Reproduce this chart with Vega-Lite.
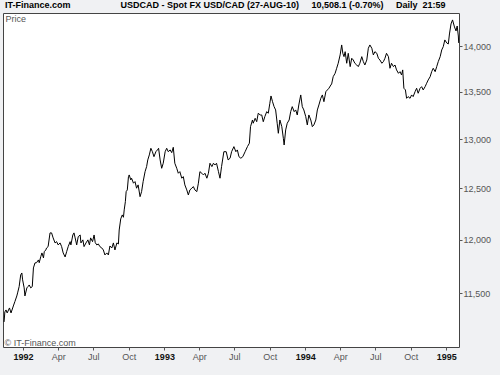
{
"$schema": "https://vega.github.io/schema/vega-lite/v6.json",
"width": 456, "height": 334,
"autosize": {"type": "none"},
"padding": {"left": 3, "top": 13, "right": 41, "bottom": 28},
"background": "#f0f1f3",
"config": {"view": {"fill": "#ffffff", "stroke": "#444444", "strokeWidth": 1}, "font": "Liberation Sans"},
"title": {"text": "IT-Finance.com\u00a0\u00a0\u00a0\u00a0\u00a0\u00a0\u00a0\u00a0\u00a0\u00a0\u00a0\u00a0\u00a0\u00a0\u00a0\u00a0\u00a0\u00a0\u00a0\u00a0USDCAD - Spot FX USD/CAD (27-AUG-10)\u00a0\u00a0\u00a0\u00a0\u00a010,508.1 (-0.70%)\u00a0\u00a0\u00a0\u00a0\u00a0Daily\u00a0\u00a021:59", "anchor": "start", "frame": "group", "dx": 2, "dy": 7, "offset": 3, "baseline": "alphabetic", "fontSize": 9, "fontWeight": "bold", "color": "#000000", "font": "Liberation Sans"},
"data": {"values": [
{"date":"1991-11-13","price":11239},{"date":"1991-11-15","price":11329},{"date":"1991-11-18","price":11347},{"date":"1991-11-21","price":11320},{"date":"1991-11-27","price":11365},{"date":"1991-12-01","price":11320},{"date":"1991-12-07","price":11383},{"date":"1991-12-11","price":11423},{"date":"1991-12-16","price":11474},{"date":"1991-12-18","price":11502},{"date":"1991-12-22","price":11560},{"date":"1991-12-26","price":11668},{"date":"1991-12-29","price":11686},{"date":"1991-12-31","price":11622},
{"date":"1992-01-04","price":11548},{"date":"1992-01-06","price":11474},{"date":"1992-01-11","price":11548},{"date":"1992-01-14","price":11560},{"date":"1992-01-17","price":11575},{"date":"1992-01-21","price":11548},{"date":"1992-01-25","price":11560},{"date":"1992-01-28","price":11733},{"date":"1992-02-01","price":11780},{"date":"1992-02-05","price":11782},{"date":"1992-02-10","price":11808},{"date":"1992-02-12","price":11782},{"date":"1992-02-16","price":11839},{"date":"1992-02-19","price":11874},{"date":"1992-02-23","price":11827},{"date":"1992-02-25","price":11886},{"date":"1992-02-29","price":11902},{"date":"1992-03-02","price":11921},{"date":"1992-03-06","price":11934},{"date":"1992-03-11","price":12065},{"date":"1992-03-15","price":12065},{"date":"1992-03-19","price":12017},{"date":"1992-03-24","price":11969},{"date":"1992-03-28","price":11981},{"date":"1992-04-01","price":11950},{"date":"1992-04-06","price":11969},{"date":"1992-04-10","price":11934},{"date":"1992-04-14","price":11874},{"date":"1992-04-19","price":11836},{"date":"1992-04-23","price":11886},{"date":"1992-04-27","price":11934},{"date":"1992-05-02","price":11981},{"date":"1992-05-04","price":11950},{"date":"1992-05-09","price":12045},{"date":"1992-05-12","price":12065},{"date":"1992-05-15","price":12017},{"date":"1992-05-19","price":11950},{"date":"1992-05-23","price":12029},{"date":"1992-05-28","price":12045},{"date":"1992-05-30","price":11969},{"date":"1992-06-04","price":11998},{"date":"1992-06-07","price":11934},{"date":"1992-06-12","price":11969},{"date":"1992-06-17","price":11998},{"date":"1992-06-21","price":11950},{"date":"1992-06-24","price":12017},{"date":"1992-06-29","price":11981},{"date":"1992-07-03","price":12045},{"date":"1992-07-06","price":11972},{"date":"1992-07-10","price":11950},{"date":"1992-07-14","price":11959},{"date":"1992-07-18","price":11934},{"date":"1992-07-23","price":11921},{"date":"1992-07-27","price":11902},{"date":"1992-07-31","price":11855},{"date":"1992-08-05","price":11874},{"date":"1992-08-09","price":11855},{"date":"1992-08-13","price":11940},{"date":"1992-08-18","price":11921},{"date":"1992-08-22","price":11969},{"date":"1992-08-26","price":11902},{"date":"1992-08-31","price":11969},{"date":"1992-09-04","price":11959},{"date":"1992-09-06","price":12093},{"date":"1992-09-10","price":12200},{"date":"1992-09-14","price":12239},{"date":"1992-09-17","price":12216},{"date":"1992-09-19","price":12288},{"date":"1992-09-22","price":12369},{"date":"1992-09-24","price":12468},{"date":"1992-09-27","price":12485},{"date":"1992-09-30","price":12618},{"date":"1992-10-02","price":12635},{"date":"1992-10-06","price":12585},{"date":"1992-10-08","price":12602},{"date":"1992-10-13","price":12552},{"date":"1992-10-17","price":12568},{"date":"1992-10-21","price":12502},{"date":"1992-10-25","price":12535},{"date":"1992-10-30","price":12418},{"date":"1992-11-03","price":12468},{"date":"1992-11-07","price":12568},{"date":"1992-11-12","price":12668},{"date":"1992-11-16","price":12719},{"date":"1992-11-19","price":12787},{"date":"1992-11-23","price":12838},{"date":"1992-11-27","price":12906},{"date":"1992-12-01","price":12871},{"date":"1992-12-05","price":12820},{"date":"1992-12-10","price":12871},{"date":"1992-12-14","price":12889},{"date":"1992-12-17","price":12906},{"date":"1992-12-21","price":12787},{"date":"1992-12-25","price":12702},{"date":"1992-12-29","price":12753},
{"date":"1993-01-03","price":12871},{"date":"1993-01-07","price":12906},{"date":"1993-01-11","price":12871},{"date":"1993-01-16","price":12889},{"date":"1993-01-20","price":12861},{"date":"1993-01-24","price":12916},{"date":"1993-01-28","price":12753},{"date":"1993-02-02","price":12702},{"date":"1993-02-06","price":12652},{"date":"1993-02-10","price":12668},{"date":"1993-02-15","price":12602},{"date":"1993-02-19","price":12618},{"date":"1993-02-23","price":12535},{"date":"1993-02-28","price":12485},{"date":"1993-03-04","price":12435},{"date":"1993-03-08","price":12485},{"date":"1993-03-13","price":12502},{"date":"1993-03-17","price":12518},{"date":"1993-03-21","price":12485},{"date":"1993-03-26","price":12468},{"date":"1993-03-30","price":12552},{"date":"1993-04-03","price":12668},{"date":"1993-04-08","price":12652},{"date":"1993-04-12","price":12635},{"date":"1993-04-16","price":12652},{"date":"1993-04-21","price":12602},{"date":"1993-04-25","price":12652},{"date":"1993-04-29","price":12753},{"date":"1993-05-04","price":12719},{"date":"1993-05-08","price":12753},{"date":"1993-05-12","price":12736},{"date":"1993-05-16","price":12753},{"date":"1993-05-21","price":12668},{"date":"1993-05-25","price":12602},{"date":"1993-05-29","price":12719},{"date":"1993-06-04","price":12871},{"date":"1993-06-10","price":12871},{"date":"1993-06-15","price":12787},{"date":"1993-06-20","price":12804},{"date":"1993-06-24","price":12871},{"date":"1993-06-30","price":12923},{"date":"1993-07-05","price":12871},{"date":"1993-07-09","price":12889},{"date":"1993-07-13","price":12820},{"date":"1993-07-18","price":12804},{"date":"1993-07-23","price":12820},{"date":"1993-07-29","price":12871},{"date":"1993-08-04","price":12923},{"date":"1993-08-09","price":12958},{"date":"1993-08-12","price":13130},{"date":"1993-08-17","price":13200},{"date":"1993-08-19","price":13166},{"date":"1993-08-24","price":13218},{"date":"1993-08-28","price":13182},{"date":"1993-09-01","price":13271},{"date":"1993-09-06","price":13253},{"date":"1993-09-10","price":13253},{"date":"1993-09-14","price":13182},{"date":"1993-09-18","price":13235},{"date":"1993-09-23","price":13288},{"date":"1993-09-27","price":13271},{"date":"1993-10-01","price":13377},{"date":"1993-10-04","price":13455},{"date":"1993-10-08","price":13394},{"date":"1993-10-12","price":13341},{"date":"1993-10-16","price":13306},{"date":"1993-10-20","price":13166},{"date":"1993-10-23","price":13061},{"date":"1993-10-27","price":13200},{"date":"1993-11-01","price":13130},{"date":"1993-11-05","price":13009},{"date":"1993-11-07","price":12940},{"date":"1993-11-11","price":13096},{"date":"1993-11-15","price":13166},{"date":"1993-11-20","price":13200},{"date":"1993-11-24","price":13288},{"date":"1993-11-28","price":13341},{"date":"1993-12-03","price":13288},{"date":"1993-12-07","price":13306},{"date":"1993-12-11","price":13253},{"date":"1993-12-15","price":13359},{"date":"1993-12-20","price":13466},{"date":"1993-12-24","price":13341},{"date":"1993-12-28","price":13306},
{"date":"1994-01-02","price":13235},{"date":"1994-01-06","price":13148},{"date":"1994-01-10","price":13253},{"date":"1994-01-15","price":13200},{"date":"1994-01-19","price":13130},{"date":"1994-01-23","price":13148},{"date":"1994-01-28","price":13200},{"date":"1994-02-01","price":13306},{"date":"1994-02-05","price":13359},{"date":"1994-02-10","price":13430},{"date":"1994-02-14","price":13466},{"date":"1994-02-18","price":13394},{"date":"1994-02-23","price":13501},{"date":"1994-02-27","price":13520},{"date":"1994-03-03","price":13538},{"date":"1994-03-08","price":13573},{"date":"1994-03-10","price":13584},{"date":"1994-03-14","price":13663},{"date":"1994-03-19","price":13700},{"date":"1994-03-23","price":13755},{"date":"1994-03-27","price":13810},{"date":"1994-04-01","price":13902},{"date":"1994-04-05","price":14013},{"date":"1994-04-08","price":13920},{"date":"1994-04-11","price":13883},{"date":"1994-04-14","price":13938},{"date":"1994-04-18","price":13810},{"date":"1994-04-22","price":13920},{"date":"1994-04-27","price":13773},{"date":"1994-05-01","price":13865},{"date":"1994-05-05","price":13846},{"date":"1994-05-09","price":13810},{"date":"1994-05-14","price":13791},{"date":"1994-05-18","price":13773},{"date":"1994-05-22","price":13810},{"date":"1994-05-27","price":13883},{"date":"1994-05-31","price":13828},{"date":"1994-06-04","price":13791},{"date":"1994-06-09","price":13846},{"date":"1994-06-13","price":13976},{"date":"1994-06-17","price":14013},{"date":"1994-06-22","price":13976},{"date":"1994-06-26","price":13902},{"date":"1994-06-30","price":13938},{"date":"1994-07-05","price":13920},{"date":"1994-07-09","price":13865},{"date":"1994-07-13","price":13846},{"date":"1994-07-18","price":13810},{"date":"1994-07-22","price":13828},{"date":"1994-07-26","price":13865},{"date":"1994-07-30","price":13920},{"date":"1994-08-04","price":13883},{"date":"1994-08-08","price":13755},{"date":"1994-08-12","price":13810},{"date":"1994-08-17","price":13773},{"date":"1994-08-21","price":13791},{"date":"1994-08-25","price":13737},{"date":"1994-08-30","price":13700},{"date":"1994-09-03","price":13718},{"date":"1994-09-07","price":13682},{"date":"1994-09-10","price":13737},{"date":"1994-09-13","price":13538},{"date":"1994-09-17","price":13520},{"date":"1994-09-20","price":13430},{"date":"1994-09-24","price":13448},{"date":"1994-09-29","price":13430},{"date":"1994-10-03","price":13466},{"date":"1994-10-07","price":13448},{"date":"1994-10-12","price":13501},{"date":"1994-10-16","price":13538},{"date":"1994-10-20","price":13484},{"date":"1994-10-25","price":13538},{"date":"1994-10-29","price":13555},{"date":"1994-11-02","price":13520},{"date":"1994-11-07","price":13555},{"date":"1994-11-11","price":13592},{"date":"1994-11-15","price":13628},{"date":"1994-11-20","price":13663},{"date":"1994-11-24","price":13718},{"date":"1994-11-28","price":13755},{"date":"1994-12-03","price":13718},{"date":"1994-12-07","price":13773},{"date":"1994-12-11","price":13828},{"date":"1994-12-16","price":13883},{"date":"1994-12-20","price":13957},{"date":"1994-12-24","price":13994},{"date":"1994-12-28","price":14069},
{"date":"1995-01-02","price":14035},{"date":"1995-01-06","price":14024},{"date":"1995-01-09","price":14136},{"date":"1995-01-13","price":14249},{"date":"1995-01-17","price":14295},{"date":"1995-01-22","price":14215},{"date":"1995-01-26","price":14170},{"date":"1995-01-29","price":14226},{"date":"1995-02-01","price":14113},{"date":"1995-02-02","price":14035}
]},
"mark": {"type": "line", "color": "#000000", "strokeWidth": 1, "clip": true},
"encoding": {
  "x": {"field": "date", "type": "temporal",
    "scale": {"type": "utc", "domain": [{"year": 1991, "month": 11, "date": 10, "hours": 5, "utc": true}, {"year": 1995, "month": 2, "date": 2, "hours": 17, "utc": true}]},
    "axis": {"orient": "bottom",
      "values": [{"year":1992,"month":1,"date":1,"utc":true},{"year":1992,"month":4,"date":1,"utc":true},{"year":1992,"month":7,"date":1,"utc":true},{"year":1992,"month":10,"date":1,"utc":true},{"year":1993,"month":1,"date":1,"utc":true},{"year":1993,"month":4,"date":1,"utc":true},{"year":1993,"month":7,"date":1,"utc":true},{"year":1993,"month":10,"date":1,"utc":true},{"year":1994,"month":1,"date":1,"utc":true},{"year":1994,"month":4,"date":1,"utc":true},{"year":1994,"month":7,"date":1,"utc":true},{"year":1994,"month":10,"date":1,"utc":true},{"year":1995,"month":1,"date":1,"utc":true}],
      "labelExpr": "utcmonth(datum.value) == 0 ? utcFormat(datum.value, '%Y') : utcFormat(datum.value, '%b')",
      "labelFontWeight": {"condition": {"test": "utcmonth(datum.value) == 0", "value": "bold"}, "value": "normal"},
      "labelColor": {"condition": {"test": "utcmonth(datum.value) == 0", "value": "#111111"}, "value": "#555555"},
      "labelFontSize": 9, "labelFont": "Liberation Sans", "labelPadding": 2, "labelFlush": false, "labelOverlap": false,
      "domain": false, "grid": false, "tickSize": 3, "tickColor": "#555555",
      "title": "© IT-Finance.com", "titleX": 1, "titleY": -2, "titleAlign": "left", "titleBaseline": "alphabetic",
      "titleFontSize": 9, "titleFontWeight": "normal", "titleColor": "#555555", "titleFont": "Liberation Sans"}},
  "y": {"field": "price", "type": "quantitative",
    "scale": {"type": "log", "domain": [11017, 14374], "nice": false, "zero": false},
    "axis": {"orient": "right", "values": [11500, 12000, 12500, 13000, 13500, 14000], "format": ",d",
      "labelFontSize": 9, "labelFont": "Liberation Sans", "labelColor": "#555555", "labelPadding": 1,
      "domain": false, "grid": false, "tickSize": 3, "tickColor": "#555555",
      "title": "Price", "titleAngle": 0, "titleX": -454, "titleY": 8, "titleAlign": "left", "titleBaseline": "alphabetic",
      "titleFontSize": 9, "titleFontWeight": "normal", "titleColor": "#555555", "titleFont": "Liberation Sans"}}
}
}
